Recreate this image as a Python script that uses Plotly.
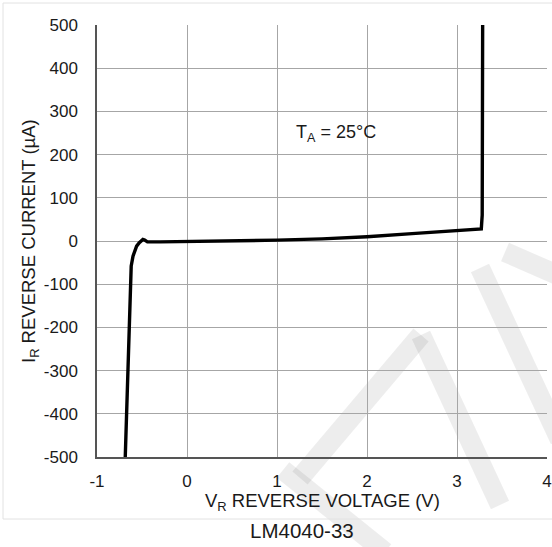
import plotly.graph_objects as go

# Reverse characteristic, LM4040-33 at 25 °C
voltage_v = [-0.686, -0.62, -0.60, -0.58, -0.56, -0.53, -0.51, -0.49, -0.47, -0.44,
             -0.30, 0.0, 0.5, 1.0, 1.5, 2.0, 2.5, 3.0, 3.27, 3.28, 3.285]
current_ua = [-500, -58, -35, -21, -12, -4, 1, 3.5, 2, -2,
              -2, -1.5, 0, 2, 5, 10, 17, 23, 28, 60, 500]

x_ticks = [-1, 0, 1, 2, 3, 4]
y_ticks = [-500, -400, -300, -200, -100, 0, 100, 200, 300, 400, 500]

W, H = 552, 547
L, R, T, B = 97, 5, 25, 90
PW, PH = W - L - R, H - T - B


def px(x):
    return (x - L) / PW


def py(y):
    return (H - B - y) / PH


FONT = "Liberation Sans, Arial, sans-serif"
TXT = "#1a1a1a"
GRID = "#a6a6a6"

fig = go.Figure()
fig.add_trace(go.Scatter(
    x=voltage_v, y=current_ua, mode="lines",
    line=dict(color="black", width=3.4),
    hoverinfo="skip", showlegend=False,
))

# faint diagonal watermark strokes
wm = [((283, 470), (385, 552)),
      ((421, 335), (300, 478)),
      ((421, 335), (500, 505)),
      ((480, 268), (560, 440)),
      ((505, 252), (560, 276))]
shapes = []
for (x0, y0), (x1, y1) in wm:
    shapes.append(dict(type="line", xref="paper", yref="paper",
                       x0=px(x0), y0=py(y0), x1=px(x1), y1=py(y1),
                       line=dict(color="rgba(0,0,0,0.07)", width=20),
                       layer="below"))
# thin outer frame
shapes.append(dict(type="rect", xref="paper", yref="paper",
                   x0=px(3), y0=py(519), x1=px(556), y1=py(3),
                   line=dict(color="#e2e2e2", width=1), layer="below"))

annotations = [
    dict(text="T<sub>A</sub> = 25°C", x=1.656, y=250, xref="x", yref="y",
         xanchor="center", yanchor="middle", showarrow=False,
         font=dict(family=FONT, size=18, color=TXT)),
    dict(text="V<sub>R</sub> REVERSE VOLTAGE (V)", x=px(322), y=py(502),
         xref="paper", yref="paper", xanchor="center", yanchor="middle",
         showarrow=False, font=dict(family=FONT, size=18.5, color=TXT)),
    dict(text="I<sub>R</sub> REVERSE CURRENT (µA)", x=px(30), y=py(241),
         xref="paper", yref="paper", xanchor="center", yanchor="middle",
         showarrow=False, textangle=-90,
         font=dict(family=FONT, size=18.5, color=TXT)),
    dict(text="LM4040-33", x=px(302), y=py(530),
         xref="paper", yref="paper", xanchor="center", yanchor="middle",
         showarrow=False, font=dict(family=FONT, size=20.5, color=TXT)),
]

fig.update_layout(
    width=W, height=H,
    margin=dict(l=L, r=R, t=T, b=B, pad=0, autoexpand=False),
    paper_bgcolor="white", plot_bgcolor="white",
    shapes=shapes, annotations=annotations,
    font=dict(family=FONT, size=17, color=TXT),
)
fig.update_xaxes(
    range=[-1, 4], tickvals=x_ticks, ticktext=[str(v) for v in x_ticks],
    showgrid=True, gridcolor=GRID, gridwidth=1, automargin=False,
    zeroline=False, showline=True, linecolor="#555555", linewidth=1.5,
    ticks="", ticklabelstandoff=8, mirror=False,
    tickfont=dict(family=FONT, size=17, color=TXT),
)
fig.update_yaxes(
    range=[-500, 500], tickvals=y_ticks, ticktext=[str(v) for v in y_ticks],
    showgrid=True, gridcolor=GRID, gridwidth=1, automargin=False,
    zeroline=False, showline=True, linecolor="#555555", linewidth=1.5,
    ticks="", ticklabelstandoff=14,
    tickfont=dict(family=FONT, size=17, color=TXT),
)

fig.write_html("out.html")
